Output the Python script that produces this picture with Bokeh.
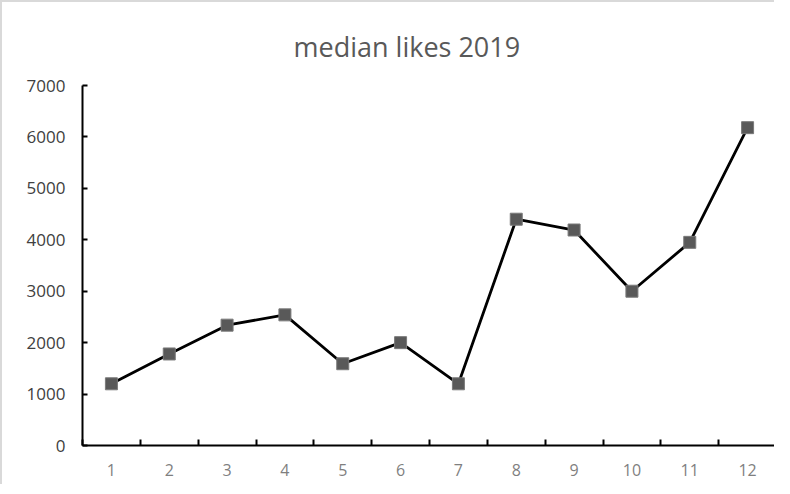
from bokeh.plotting import figure
from bokeh.models import FixedTicker, Range1d
from bokeh.embed import file_html
from bokeh.resources import INLINE

months = [1, 2, 3, 4, 5, 6, 7, 8, 9, 10, 11, 12]
median_likes = [1200, 1780, 2340, 2540, 1590, 2000, 1200, 4400, 4190, 3000, 3950, 6180]
y_ticks = [0, 1000, 2000, 3000, 4000, 5000, 6000, 7000]
title_text = "median likes 2019"

FONT = "Open Sans"

p = figure(width=774, height=484, output_backend="svg", toolbar_location=None,
           x_range=Range1d(0.5, 12.5), y_range=Range1d(0, 7000),
           min_border_left=80, min_border_right=0, min_border_top=83, min_border_bottom=41)
p.styles = {"border-top": "2px solid #d9d9d9", "border-left": "2px solid #d9d9d9"}
p.outline_line_color = None
p.grid.visible = False
p.background_fill_color = "white"
p.border_fill_color = "white"

p.title.text = title_text
p.title.align = "left"
p.title.offset = 211
p.title.text_font = FONT
p.title.text_font_size = "27px"
p.title.text_font_style = "normal"
p.title.text_color = "#595959"
p.title.standoff = 42

p.xaxis.ticker = FixedTicker(ticks=months, minor_ticks=[m - 0.5 for m in months] + [12.5])
p.xaxis.major_tick_in = 0
p.xaxis.major_tick_out = 0
p.xaxis.minor_tick_in = 6
p.xaxis.minor_tick_out = 0
p.xaxis.minor_tick_line_color = "black"
p.xaxis.minor_tick_line_width = 2
p.xaxis.axis_line_color = "black"
p.xaxis.axis_line_width = 2
p.xaxis.major_label_text_font = FONT
p.xaxis.major_label_text_font_size = "16px"
p.xaxis.major_label_text_color = "#7f7f7f"
p.xaxis.major_label_standoff = 18

p.yaxis.ticker = FixedTicker(ticks=y_ticks)
p.yaxis.minor_tick_line_color = None
p.yaxis.major_tick_in = 5
p.yaxis.major_tick_out = 0
p.yaxis.major_tick_line_color = "black"
p.yaxis.major_tick_line_width = 2
p.yaxis.axis_line_color = "black"
p.yaxis.axis_line_width = 2
p.yaxis.major_label_text_font = FONT
p.yaxis.major_label_text_font_size = "17px"
p.yaxis.major_label_text_color = "#404040"
p.yaxis.major_label_standoff = 17

p.line(months, median_likes, line_color="black", line_width=2.8)
p.scatter(months, median_likes, marker="square", size=12,
          fill_color="#595959", line_color="#7a7a7a", line_width=1)

open("out.html", "w").write(file_html(p, INLINE))
